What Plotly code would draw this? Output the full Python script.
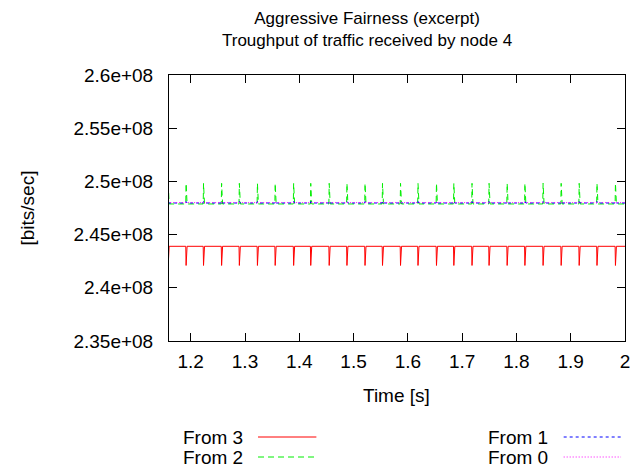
import plotly.graph_objects as go

# Times (s) at which the periodic disturbance hits the flows
event_times = [1.1585, 1.1915, 1.2236, 1.2569, 1.2896, 1.3229, 1.3556, 1.3896,
               1.4211, 1.4551, 1.4878, 1.5211, 1.5533, 1.5865, 1.6187, 1.6527,
               1.6847, 1.7182, 1.7496, 1.7829, 1.8156, 1.8491, 1.8824, 1.9156,
               1.9484, 1.9824, 2.0155]
t_start = 1.14
t_end = 2.03

# Throughput levels [bits/sec]
from3_level = 2.439e8
from3_dip = 2.421e8
from2_level = 2.4788e8
from2_peak = 2.4982e8
from1_level = 2.4797e8
from1_peak = 2.4811e8
from0_level = 2.4801e8
from0_peak = 2.4804e8

series_names = ["From 3", "From 2", "From 1", "From 0"]
series_colors = ["#ff0000", "#00ee00", "#0000ff", "#ff00ff"]
series_dash = ["solid", "6px,4px", "3px,3px", "1px,2px"]

y_tickvals = [2.35e8, 2.4e8, 2.45e8, 2.5e8, 2.55e8, 2.6e8]
y_ticktext = ["2.35e+08", "2.4e+08", "2.45e+08", "2.5e+08", "2.55e+08", "2.6e+08"]
x_tickvals = [1.2, 1.3, 1.4, 1.5, 1.6, 1.7, 1.8, 1.9, 2.0]
x_ticktext = ["1.2", "1.3", "1.4", "1.5", "1.6", "1.7", "1.8", "1.9", "2"]


def spiky(level, extreme):
    """Flat throughput with a one-sample excursion at each event."""
    xs, ys = [t_start], [level]
    for t in event_times:
        xs += [t - 0.0006, t, t + 0.0018]
        ys += [level, extreme, level]
    xs.append(t_end)
    ys.append(level)
    return xs, ys


levels = [(from3_level, from3_dip), (from2_level, from2_peak),
          (from1_level, from1_peak), (from0_level, from0_peak)]

fig = go.Figure()
for name, color, dash, (lv, ex) in zip(series_names, series_colors, series_dash, levels):
    xs, ys = spiky(lv, ex)
    fig.add_trace(go.Scatter(x=xs, y=ys, mode="lines", name=name,
                             line=dict(color=color, width=1, dash=dash),
                             showlegend=False))

# Plot-area geometry in pixels
W, H = 639, 468
L, R, T, B = 169, 630, 75, 341
PW, PH = R - L, B - T


def px(x):
    return (x - L) / PW


def py(y):
    return (B - y) / PH


FONT = "Liberation Sans, Arial, sans-serif"
FS = 19

annotations = [
    dict(text="Aggressive Fairness (excerpt)<br>Troughput of traffic received by node 4",
         x=px(369), y=py(30), xref="paper", yref="paper", showarrow=False,
         xanchor="center", yanchor="middle", align="center",
         font=dict(size=17, family=FONT, color="black")),
    dict(text="Time [s]", x=px(399), y=py(395), xref="paper", yref="paper",
         showarrow=False, xanchor="center", yanchor="middle",
         font=dict(size=FS, family=FONT, color="black")),
    dict(text="[bits/sec]", x=px(25), y=py(208), xref="paper", yref="paper",
         showarrow=False, xanchor="center", yanchor="middle", textangle=-90,
         font=dict(size=FS, family=FONT, color="black")),
]

# Key: label text followed by a line sample, two columns
key_slots = [(246, 259, 318, 437), (246, 259, 318, 457),
             (554, 568, 626, 437), (554, 568, 626, 457)]
shapes = []
for name, color, dash, (tx, x0, x1, yy) in zip(series_names, series_colors, series_dash, key_slots):
    annotations.append(dict(text=name, x=px(tx), y=py(yy), xref="paper", yref="paper",
                            showarrow=False, xanchor="right", yanchor="middle",
                            font=dict(size=FS, family=FONT, color="black")))
    shapes.append(dict(type="line", xref="paper", yref="paper",
                       x0=px(x0), x1=px(x1), y0=py(yy), y1=py(yy),
                       line=dict(color=color, width=1, dash=dash)))

fig.update_layout(
    width=W, height=H,
    margin=dict(l=L, r=W - R, t=T, b=H - B, pad=0),
    paper_bgcolor="white", plot_bgcolor="white",
    font=dict(family=FONT, size=FS, color="black"),
    annotations=annotations, shapes=shapes,
    showlegend=False,
)
fig.update_xaxes(range=[1.16, 2.0], tickvals=x_tickvals, ticktext=x_ticktext,
                 ticks="inside", ticklen=8, tickcolor="black", tickwidth=1,
                 showline=True, linecolor="black", linewidth=1, mirror="allticks",
                 showgrid=False, zeroline=False, ticklabelstandoff=3,
                 tickfont=dict(size=FS, family=FONT, color="black"))
fig.update_yaxes(range=[2.35e8, 2.6e8], tickvals=y_tickvals, ticktext=y_ticktext,
                 ticks="inside", ticklen=8, tickcolor="black", tickwidth=1,
                 showline=True, linecolor="black", linewidth=1, mirror="allticks",
                 showgrid=False, zeroline=False, ticklabelstandoff=11,
                 tickfont=dict(size=FS, family=FONT, color="black"))

fig.write_html("out.html")
